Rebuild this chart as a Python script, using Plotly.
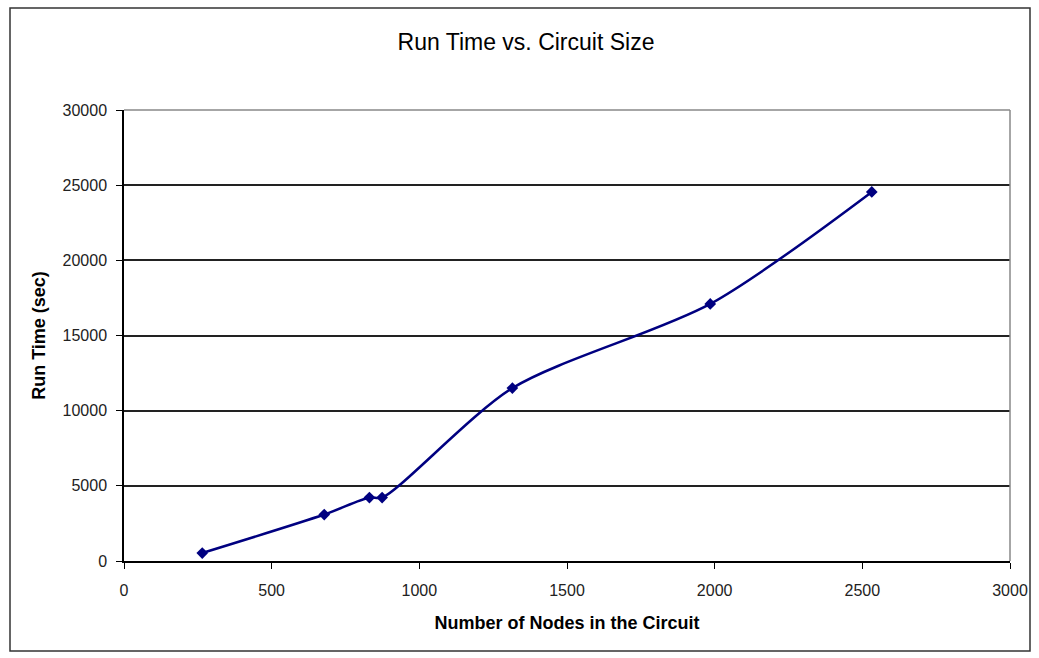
import plotly.graph_objects as go

nodes = [265, 678, 831, 874, 1315, 1985, 2532]
run_time = [530, 3090, 4220, 4220, 11500, 17100, 24550]

x_ticks = [0, 500, 1000, 1500, 2000, 2500, 3000]
y_ticks = [0, 5000, 10000, 15000, 20000, 25000, 30000]

W, H = 1039, 658
L, R, T, B = 124, 29, 110, 97
pw, ph = W - L - R, H - T - B

def px_x(p):
    return (p - L) / pw

def px_y(p):
    return (H - B - p) / ph

fig = go.Figure()
fig.add_trace(go.Scatter(
    x=nodes, y=run_time, mode="lines+markers",
    line=dict(color="#000080", width=2.5, shape="spline", smoothing=0.8),
    marker=dict(symbol="diamond", size=9, color="#000080"),
    showlegend=False, hoverinfo="x+y",
))

font = "Liberation Sans, Arial, sans-serif"
fig.update_layout(
    width=W, height=H,
    margin=dict(l=L, r=R, t=T, b=B),
    paper_bgcolor="white", plot_bgcolor="white",
    font=dict(family=font, size=16, color="black"),
    title=dict(text="Run Time vs. Circuit Size", x=526 / W, xref="container", xanchor="center",
               y=1 - 42 / H, yref="container", yanchor="middle",
               font=dict(size=23, family=font, color="black")),
    xaxis=dict(range=[0, 3000], tickvals=x_ticks, ticktext=[str(v) for v in x_ticks],
               showgrid=False, zeroline=False, showline=True, linecolor="black", linewidth=1.5,
               ticks="outside", ticklen=6, tickcolor="black", ticklabelstandoff=8,
               tickfont=dict(size=16, color="#222222"),
               title=dict(text="<b>Number of Nodes in the Circuit</b>", font=dict(size=18), standoff=18)),
    yaxis=dict(range=[0, 30000], tickvals=y_ticks, ticktext=[str(v) for v in y_ticks],
               showgrid=True, gridcolor="#222222", gridwidth=1.5, zeroline=False,
               showline=True, linecolor="black", linewidth=1.5,
               ticks="outside", ticklen=6, tickcolor="black", ticklabelstandoff=6,
               tickfont=dict(size=16, color="#222222"),
               title=dict(text="<b>Run Time (sec)</b>", font=dict(size=18), standoff=12)),
)

# plot area border (gray top/right)
fig.add_shape(type="line", xref="paper", yref="paper", x0=0, x1=1, y0=1, y1=1,
              line=dict(color="#888888", width=1.5))
fig.add_shape(type="line", xref="paper", yref="paper", x0=1, x1=1, y0=0, y1=1,
              line=dict(color="#888888", width=1.5))
# outer chart border
fig.add_shape(type="rect", xref="paper", yref="paper",
              x0=px_x(10), x1=px_x(1030), y0=px_y(651), y1=px_y(8),
              line=dict(color="#333333", width=1.5), layer="below")

fig.write_html("out.html")
